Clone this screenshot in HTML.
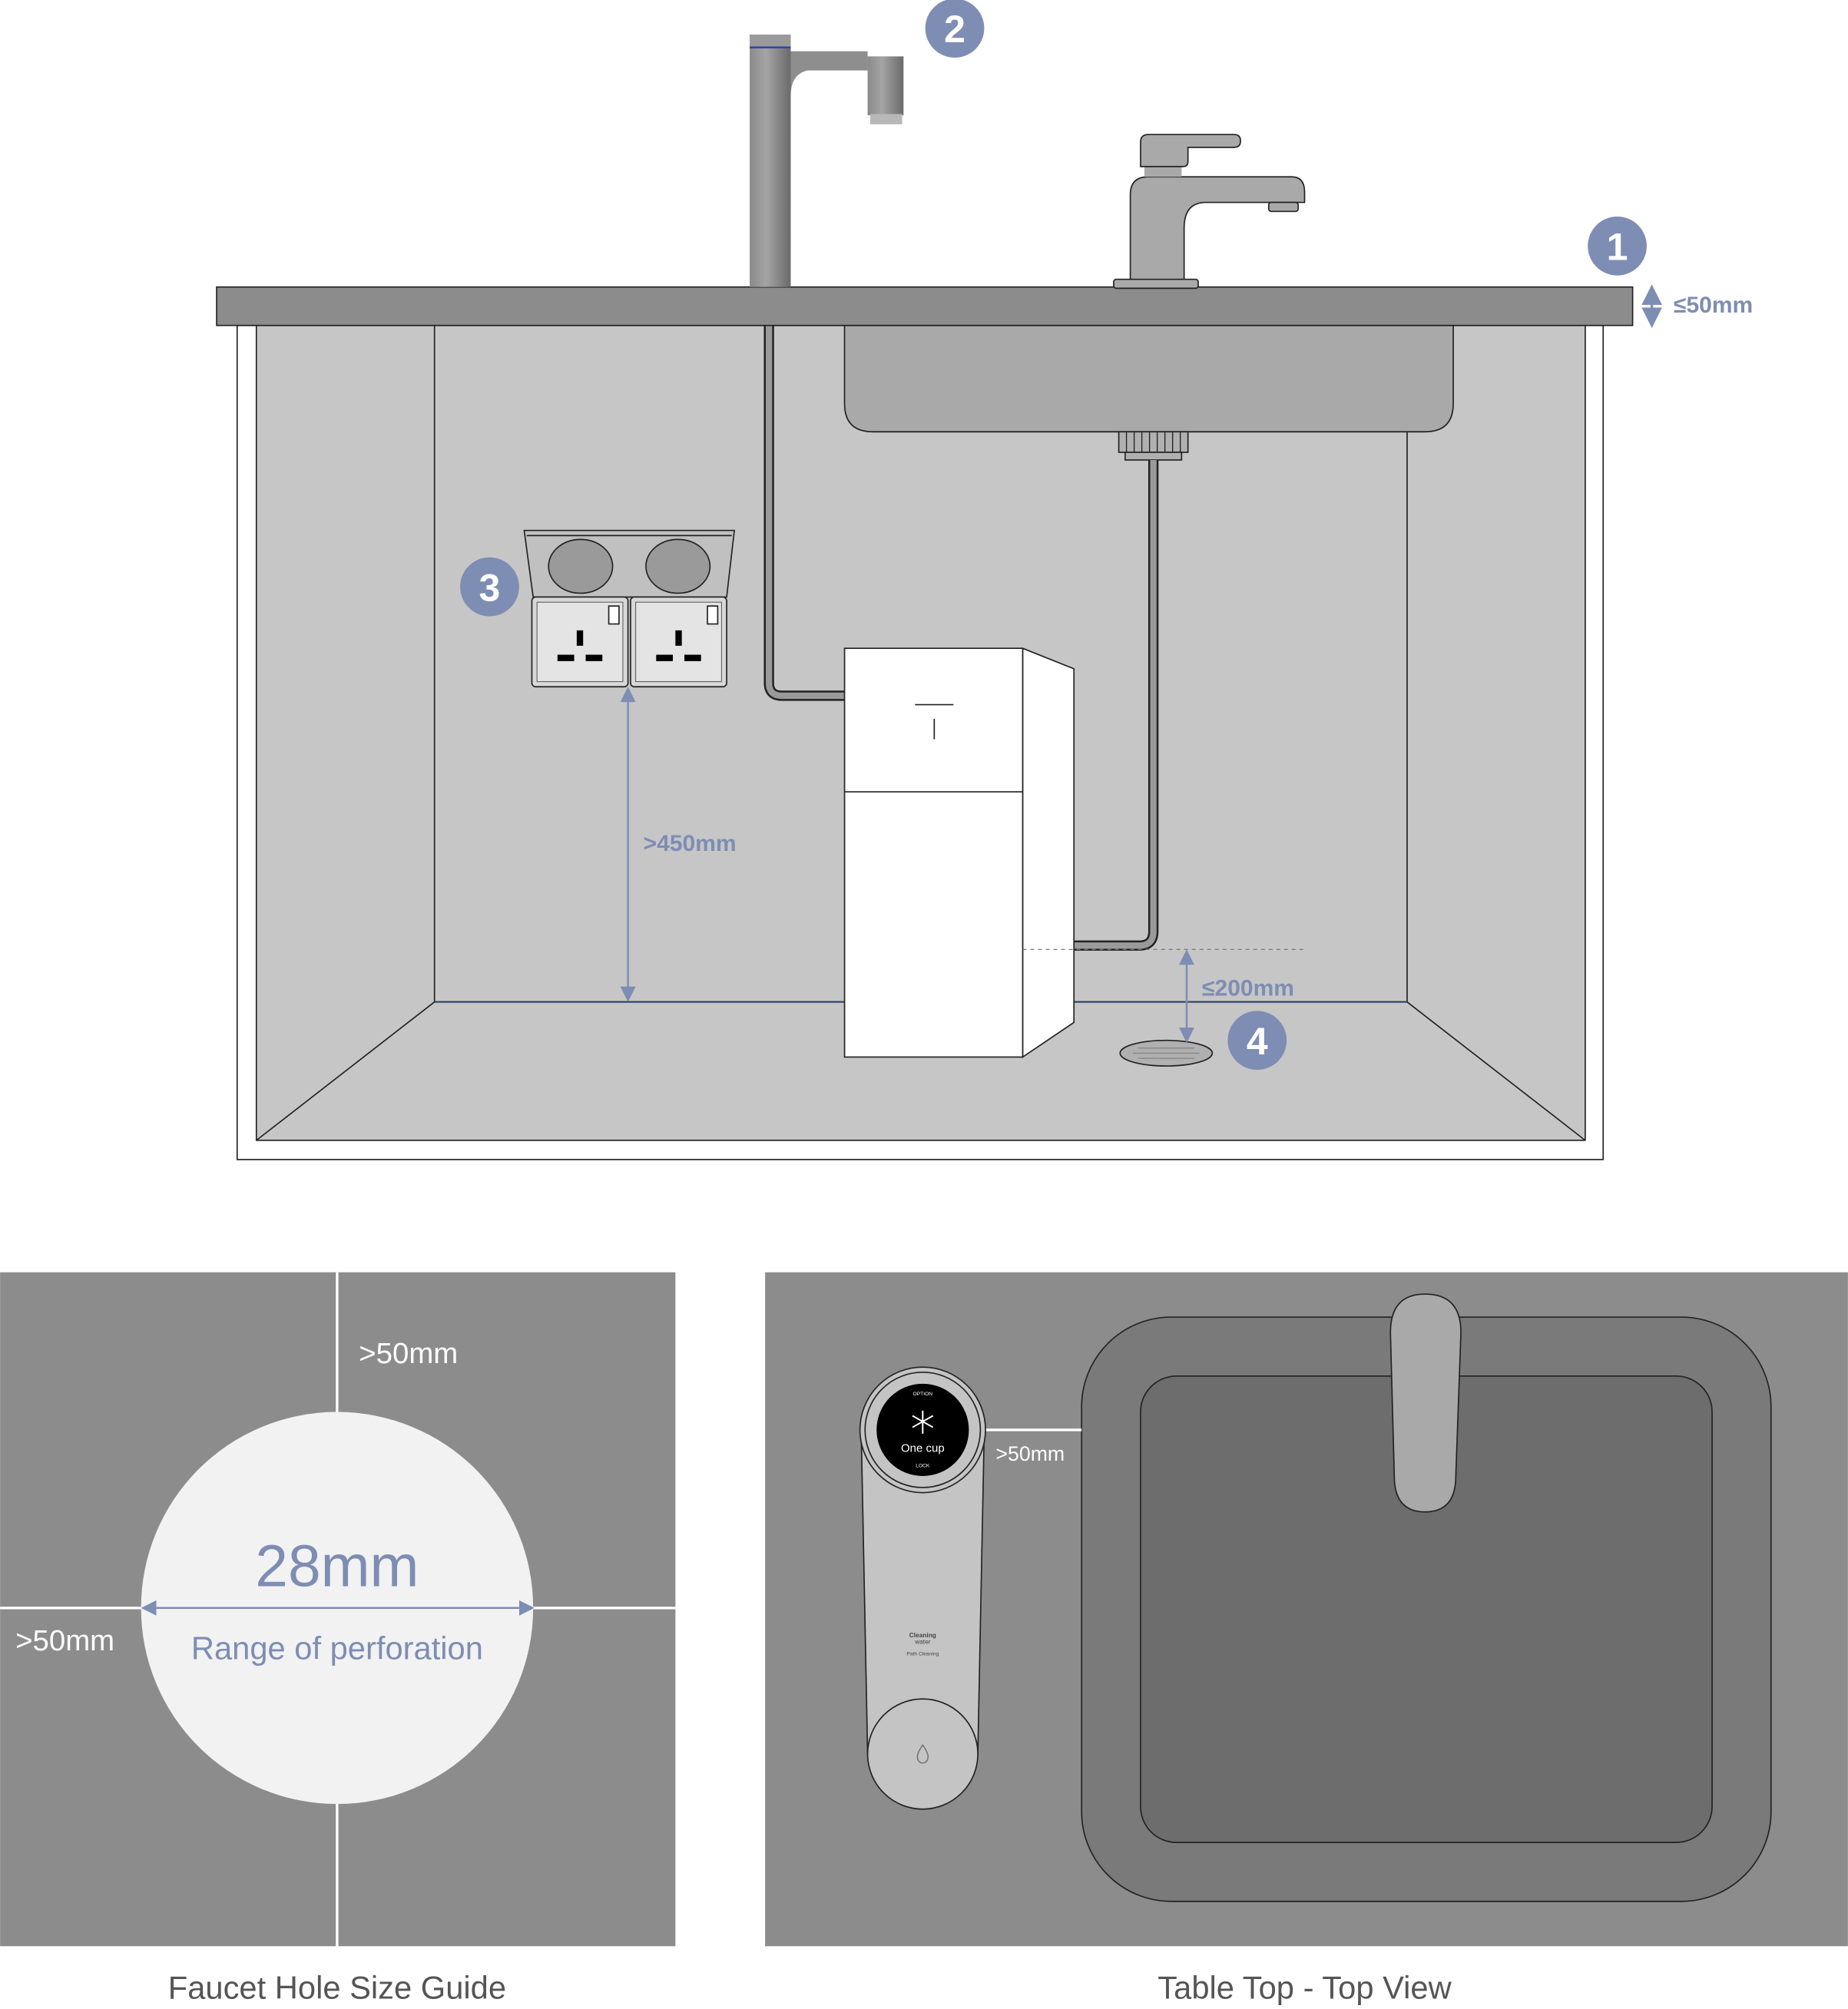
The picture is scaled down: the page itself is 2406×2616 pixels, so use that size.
<!DOCTYPE html>
<html><head><meta charset="utf-8"><style>html,body{margin:0;padding:0;background:#fff}svg{display:block}</style></head><body>
<svg width="2406" height="2616" viewBox="0 0 1442 1568" xmlns="http://www.w3.org/2000/svg" font-family="Liberation Sans, sans-serif">
<defs>
<linearGradient id="mg" x1="0" x2="1"><stop offset="0" stop-color="#8a8a8a"/><stop offset="0.4" stop-color="#a4a4a4"/><stop offset="1" stop-color="#6a6a6a"/></linearGradient>
<marker id="ah" markerWidth="8" markerHeight="8" refX="4" refY="4" orient="auto-start-reverse"><path d="M0,0 L8,4 L0,8 z" fill="#7e8db3"/></marker>
<marker id="ahw" markerWidth="8" markerHeight="8" refX="4" refY="4" orient="auto-start-reverse"><path d="M0,0 L8,4 L0,8 z" fill="#7e8db3"/></marker>
</defs>
<!-- cabinet -->
<rect x="185" y="254" width="1066" height="651" fill="#fff" stroke="#222" stroke-width="1"/>
<rect x="200" y="254" width="1037" height="636" fill="#c6c6c6" stroke="#222" stroke-width="1"/>
<rect x="339" y="254" width="759" height="528" fill="#c6c6c6" stroke="#222" stroke-width="1"/>
<line x1="339" y1="782" x2="1098" y2="782" stroke="#2a3a6a" stroke-width="1.2"/>
<line x1="339" y1="782" x2="200" y2="890" stroke="#222"/>
<line x1="1098" y1="782" x2="1237" y2="890" stroke="#222"/>
<!-- sink basin -->
<path d="M659,254 H1134 V315 Q1134,337 1112,337 H681 Q659,337 659,315 Z" fill="#a9a9a9" stroke="#222"/>
<!-- drain -->
<rect x="873" y="337" width="54" height="16" fill="#b0b0b0" stroke="#222"/>
<path d="M879,337v16M885,337v16M891,337v16M897,337v16M903,337v16M909,337v16M915,337v16M921,337v16" stroke="#222" stroke-width="0.8"/>
<rect x="878" y="353" width="44" height="6" fill="#b0b0b0" stroke="#222"/>
<!-- pipes -->
<path d="M900,359 V727 Q900,738 889,738 H838" fill="none" stroke="#222" stroke-width="8"/>
<path d="M900,359 V727 Q900,738 889,738 H838" fill="none" stroke="#9a9a9a" stroke-width="5"/>
<path d="M600,254 V533 Q600,543 610,543 H659" fill="none" stroke="#222" stroke-width="8"/>
<path d="M600,254 V533 Q600,543 610,543 H659" fill="none" stroke="#9a9a9a" stroke-width="5"/>
<!-- countertop -->
<rect x="169" y="224" width="1105" height="30" fill="#8c8c8c" stroke="#222"/>
<!-- tall faucet -->
<rect x="585" y="27" width="32" height="197" fill="url(#mg)"/>
<rect x="585" y="27" width="32" height="10" fill="#9a9a9a"/>
<line x1="585" y1="37" x2="617" y2="37" stroke="#3344aa" stroke-width="1.5"/>
<path d="M617,40 H677 V55 H630 Q617,58 617,75 Z" fill="#8e8e8e"/>
<rect x="677" y="44" width="28" height="46" fill="url(#mg)"/>
<rect x="679" y="89" width="25" height="8" fill="#b8b8b8"/>
<!-- right faucet -->
<rect x="869" y="218" width="66" height="7" rx="2" fill="#a9a9a9" stroke="#222"/>
<path d="M882,218 V152 Q882,138 896,138 H1008 Q1018,138 1018,150 V158 H941 Q924,158 924,178 V218 Z" fill="#a9a9a9" stroke="#222"/>
<rect x="990" y="158" width="23" height="7" rx="2" fill="#a9a9a9" stroke="#222"/>
<rect x="893" y="129" width="29" height="9" fill="#a9a9a9"/>
<path d="M890,130 V111 Q890,105 896,105 H963 Q968,105 968,110 Q968,115 963,115 H927 V126 Q927,130 923,130 Z" fill="#a9a9a9" stroke="#222"/>
<!-- socket -->
<path d="M409,414 H573 L567,466 H416 Z" fill="#c0c0c0" stroke="#222"/>
<path d="M411,418 H571" stroke="#222"/>
<ellipse cx="453" cy="442" rx="25" ry="21" fill="#9a9a9a" stroke="#222"/>
<ellipse cx="529" cy="442" rx="25" ry="21" fill="#9a9a9a" stroke="#222"/>
<g>
<rect x="415" y="466" width="75" height="70" rx="3" fill="#d8d8d8" stroke="#222"/>
<rect x="419" y="470" width="67" height="62" fill="#e4e4e4" stroke="#555" stroke-width="0.6"/>
<rect x="475" y="473" width="8" height="14" fill="#fff" stroke="#222"/>
<rect x="450" y="492" width="5" height="12" fill="#000"/>
<rect x="435" y="511" width="13" height="5" fill="#000"/>
<rect x="457" y="511" width="13" height="5" fill="#000"/>
</g>
<g transform="translate(77,0)">
<rect x="415" y="466" width="75" height="70" rx="3" fill="#d8d8d8" stroke="#222"/>
<rect x="419" y="470" width="67" height="62" fill="#e4e4e4" stroke="#555" stroke-width="0.6"/>
<rect x="475" y="473" width="8" height="14" fill="#fff" stroke="#222"/>
<rect x="450" y="492" width="5" height="12" fill="#000"/>
<rect x="435" y="511" width="13" height="5" fill="#000"/>
<rect x="457" y="511" width="13" height="5" fill="#000"/>
</g>
<!-- purifier -->
<polygon points="798,506 838,522 838,798 798,825" fill="#fff" stroke="#222"/>
<rect x="659" y="506" width="139" height="319" fill="#fff" stroke="#222"/>
<line x1="659" y1="618" x2="798" y2="618" stroke="#222"/>
<line x1="714" y1="550" x2="744" y2="550" stroke="#222"/>
<line x1="729" y1="561" x2="729" y2="577" stroke="#222"/>
<line x1="798" y1="741" x2="1018" y2="741" stroke="#777" stroke-dasharray="3,3" stroke-width="0.8"/>
<ellipse cx="910" cy="822" rx="36" ry="10" fill="#b0b0b0" stroke="#222"/>
<path d="M884,822h52M888,818h44M888,826h44" stroke="#888" stroke-width="0.8"/>
<!-- dimensions -->
<line x1="1289" y1="230" x2="1289" y2="248" stroke="#7e8db3" stroke-width="2" marker-start="url(#ah)" marker-end="url(#ah)"/>
<text x="1306" y="244" font-size="18" font-weight="bold" fill="#7e8db3">≤50mm</text>
<line x1="490" y1="542" x2="490" y2="776" stroke="#7e8db3" stroke-width="1.5" marker-start="url(#ah)" marker-end="url(#ah)"/>
<text x="502" y="664" font-size="18" font-weight="bold" fill="#7e8db3">&gt;450mm</text>
<line x1="926" y1="747" x2="926" y2="808" stroke="#7e8db3" stroke-width="1.5" marker-start="url(#ah)" marker-end="url(#ah)"/>
<text x="938" y="777" font-size="18" font-weight="bold" fill="#7e8db3">≤200mm</text>
<!-- badges -->
<g font-size="30" font-weight="bold" fill="#fff" text-anchor="middle">
<circle cx="745" cy="22" r="23" fill="#7e8db3"/><text x="745" y="33">2</text>
<circle cx="1262" cy="192" r="23" fill="#7e8db3"/><text x="1262" y="203">1</text>
<circle cx="382" cy="458" r="23" fill="#7e8db3"/><text x="382" y="469">3</text>
<circle cx="981" cy="812" r="23" fill="#7e8db3"/><text x="981" y="823">4</text>
</g>
<!-- bottom left -->
<rect x="0" y="993" width="527" height="526" fill="#8c8c8c"/>
<line x1="263" y1="993" x2="263" y2="1519" stroke="#fff" stroke-width="2"/>
<line x1="0" y1="1255" x2="527" y2="1255" stroke="#fff" stroke-width="2"/>
<circle cx="263" cy="1255" r="153" fill="#f2f2f2"/>
<text x="263" y="1238" font-size="46" fill="#7e8db3" text-anchor="middle">28mm</text>
<line x1="116" y1="1255" x2="411" y2="1255" stroke="#7e8db3" stroke-width="1.5" marker-start="url(#ah)" marker-end="url(#ah)"/>
<text x="263" y="1295" font-size="25" fill="#7e8db3" text-anchor="middle">Range of perforation</text>
<text x="280" y="1064" font-size="23" fill="#fff">&gt;50mm</text>
<text x="12" y="1288" font-size="23" fill="#fff">&gt;50mm</text>
<text x="263" y="1560" font-size="25" fill="#555" text-anchor="middle">Faucet Hole Size Guide</text>
<!-- bottom right -->
<rect x="597" y="993" width="845" height="526" fill="#8c8c8c"/>
<rect x="844" y="1028" width="538" height="456" rx="70" fill="#7a7a7a" stroke="#222"/>
<rect x="890" y="1074" width="446" height="364" rx="28" fill="#6d6d6d" stroke="#222"/>
<path d="M1085,1040 Q1085,1010 1112,1010 Q1140,1010 1140,1040 L1136,1152 Q1136,1180 1112,1180 Q1088,1180 1088,1152 Z" fill="#a9a9a9" stroke="#222"/>
<line x1="768" y1="1116" x2="844" y2="1116" stroke="#fff" stroke-width="2"/>
<text x="777" y="1140" font-size="16" fill="#fff">&gt;50mm</text>
<polygon points="672,1117 768,1117 763,1369 677,1369" fill="#c4c4c4" stroke="#222"/>
<circle cx="720" cy="1369" r="43" fill="#c4c4c4" stroke="#222"/>
<path d="M720,1362 q-5,7 -4,10 a4,4 0 0 0 8,0 q1,-3 -4,-10z" fill="none" stroke="#777"/>
<circle cx="720" cy="1116" r="49" fill="#c4c4c4" stroke="#222"/>
<circle cx="720" cy="1116" r="45" fill="#c4c4c4" stroke="#222"/>
<circle cx="720" cy="1116" r="36" fill="#000"/>
<path d="M720,1101v18M712,1105l16,9M712,1114l16,-9" stroke="#fff" stroke-width="1.2"/>
<text x="720" y="1133" font-size="9" fill="#fff" text-anchor="middle">One cup</text>
<text x="720" y="1089" font-size="4" fill="#fff" text-anchor="middle">OPTION</text>
<text x="720" y="1145" font-size="4" fill="#fff" text-anchor="middle">LOCK</text>
<text x="720" y="1278" font-size="5" fill="#444" text-anchor="middle" font-weight="bold">Cleaning</text>
<text x="720" y="1283" font-size="5" fill="#444" text-anchor="middle">water</text>
<text x="720" y="1292" font-size="4" fill="#444" text-anchor="middle">Path Cleaning</text>
<text x="1018" y="1560" font-size="25" fill="#555" text-anchor="middle">Table Top - Top View</text>
</svg>
</body></html>
